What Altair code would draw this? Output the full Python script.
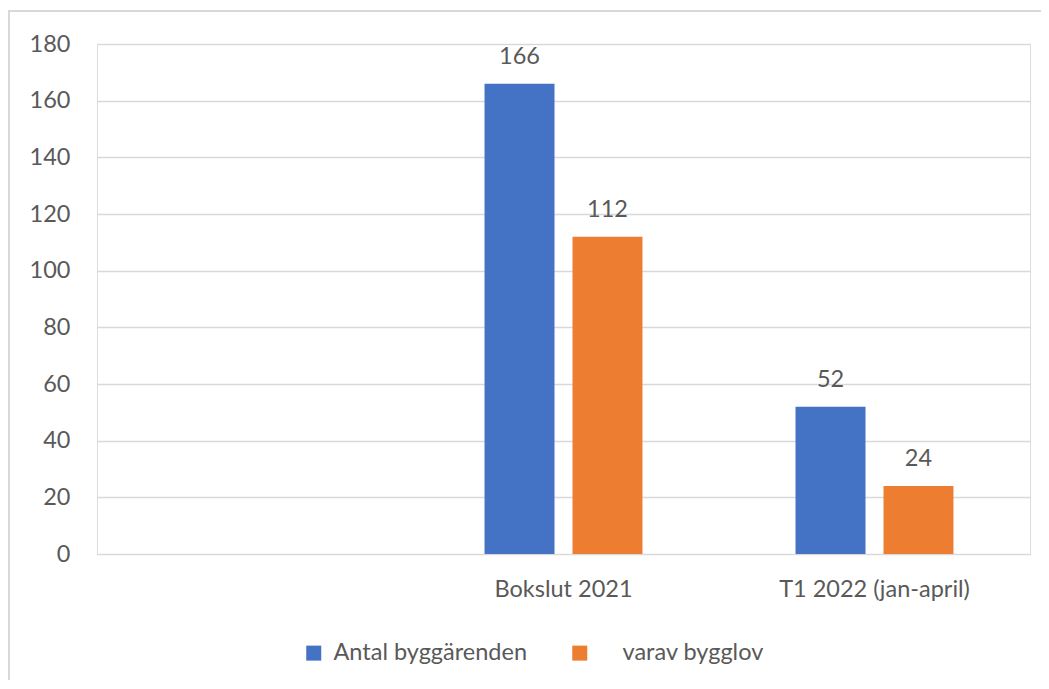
import altair as alt
import pandas as pd

categories = [" ", "Bokslut 2021", "T1 2022 (jan-april)"]
series = ["Antal byggärenden", "\u200b\u2003\u00a0varav bygglov"]
antal = [None, 166, 52]
varav = [None, 112, 24]
colors = ["#4472C4", "#ED7D31"]

rows = []
for c, a, v in zip(categories, antal, varav):
    if a is not None:
        rows.append({"cat": c, "serie": series[0], "val": a})
    if v is not None:
        rows.append({"cat": c, "serie": series[1], "val": v})
df = pd.DataFrame(rows)

FONT = "Lato"
TXT = "#595959"
W, H = 933, 510
FS = 23.5

x = alt.X("cat:N", sort=categories,
          scale=alt.Scale(domain=categories, paddingInner=0, paddingOuter=0),
          axis=alt.Axis(title=None, labelAngle=0, ticks=False, domain=False, labelLimit=400,
                        labelPadding=23, labelFontSize=FS, labelColor=TXT, labelFont=FONT))
xo = alt.XOffset("serie:N", sort=series,
                 scale=alt.Scale(paddingInner=0.2045, paddingOuter=0.87))
y = alt.Y("val:Q", scale=alt.Scale(domain=[0, 180]),
          axis=alt.Axis(title=None, values=list(range(0, 181, 20)), ticks=False, domain=False,
                        labelPadding=27, labelFontSize=FS, labelColor=TXT, labelFont=FONT,
                        gridColor="#D9D9D9", gridWidth=1.5))
color = alt.Color("serie:N", sort=series,
                  scale=alt.Scale(domain=series, range=colors),
                  legend=alt.Legend(title=None, orient="none", direction="horizontal",
                                    legendX=205, legendY=597, padding=0, labelLimit=400,
                                    symbolType="square", symbolSize=225, symbolStrokeWidth=0,
                                    labelFontSize=FS, labelColor=TXT, labelFont=FONT,
                                    labelOffset=8, columnPadding=40, symbolOpacity=1))

bars = alt.Chart(df).mark_bar().encode(x=x, xOffset=xo, y=y, color=color)
labels = alt.Chart(df).mark_text(baseline="alphabetic", dy=-20, fontSize=FS, color=TXT, font=FONT).encode(
    x=alt.X("cat:N", sort=categories), xOffset=alt.XOffset("serie:N", sort=series),
    y="val:Q", text="val:Q")

border = alt.Chart(pd.DataFrame({"a": [0]})).mark_rect(
    fill=None, stroke="#D9D9D9", strokeWidth=2).encode(
    x=alt.value(-88), x2=alt.value(970), y=alt.value(-33), y2=alt.value(660))

chart = alt.layer(border, bars, labels).properties(
    width=W, height=H,
    autosize=alt.AutoSizeParams(type="none"),
    padding={"left": 89, "top": 36, "right": 11, "bottom": 126},
).configure_view(stroke=None).configure(background="white")

chart.save("out.html", embed_options={"renderer": "svg", "actions": False})
